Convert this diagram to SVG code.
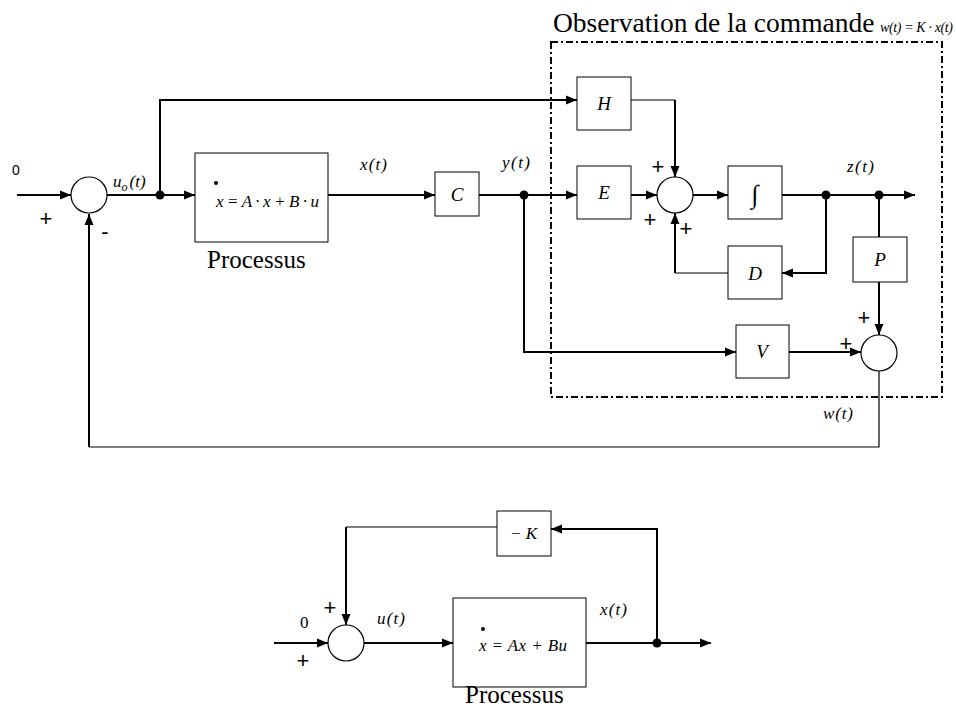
<svg xmlns="http://www.w3.org/2000/svg" width="956" height="709" viewBox="0 0 956 709">
<style>
.w{fill:none;stroke:#000;stroke-width:2}
.t{fill:none;stroke:#000;stroke-width:1.2}
.b{fill:#fff;stroke:#000;stroke-width:1}
.c{fill:#fff;stroke:#000;stroke-width:1.2}
.m{font-family:"Liberation Serif","Times New Roman",serif;font-style:italic;font-size:17px;fill:#000}
.r{font-family:"Liberation Serif","Times New Roman",serif;font-size:25px;fill:#000}
.s{font-family:"Liberation Sans",sans-serif;font-size:22px;fill:#000}
.l{font-family:"Liberation Serif","Times New Roman",serif;font-style:italic;font-size:19px;fill:#000}
</style>
<defs>
<marker id="a" markerUnits="userSpaceOnUse" markerWidth="12" markerHeight="10" refX="11" refY="5" orient="auto">
<path d="M0,0.5 L11,5 L0,9.5 z" fill="#000"/>
</marker>
</defs>
<g id="connectors">
<path class="w" d="M17,195 H71" marker-end="url(#a)"/>
<path class="w" d="M107,195 H195" marker-end="url(#a)"/>
<path class="w" d="M160,195 V100 H577" marker-end="url(#a)"/>
<path class="w" d="M328,195 H435" marker-end="url(#a)"/>
<path class="w" d="M479,195 H577" marker-end="url(#a)"/>
<path class="w" d="M524,195 V352 H736" marker-end="url(#a)"/>
<path class="t" d="M631,100 H675"/>
<path class="w" d="M675,100 V177" marker-end="url(#a)"/>
<path class="w" d="M631,195 H657" marker-end="url(#a)"/>
<path class="w" d="M693,195 H728" marker-end="url(#a)"/>
<path class="w" d="M782,195 H915" marker-end="url(#a)"/>
<path class="w" d="M826,195 V273 H782" marker-end="url(#a)"/>
<path class="t" d="M728,273 H675"/>
<path class="w" d="M675,273 V213" marker-end="url(#a)"/>
<path class="w" d="M879,195 V237"/>
<path class="w" d="M879,282 V335" marker-end="url(#a)"/>
<path class="w" d="M789,352 H861" marker-end="url(#a)"/>
<path class="t" d="M879,371 V447 H89"/>
<path class="w" d="M89,447 V214" marker-end="url(#a)"/>
<circle cx="160" cy="195" r="4.5"/>
<circle cx="524" cy="195" r="4.5"/>
<circle cx="826" cy="195" r="4.5"/>
<circle cx="879" cy="195" r="4.5"/>
<path class="w" d="M274,643 H328" marker-end="url(#a)"/>
<path class="w" d="M364,643 H453" marker-end="url(#a)"/>
<path class="w" d="M586,643 H711" marker-end="url(#a)"/>
<path class="w" d="M657,643 V529 H551" marker-end="url(#a)"/>
<path class="t" d="M497,527 H346"/>
<path class="w" d="M346,527 V625" marker-end="url(#a)"/>
<circle cx="657" cy="643" r="4.5"/>
</g>
<g id="observer-frame">
<rect x="551" y="42" width="391" height="355" fill="none" stroke="#000" stroke-width="2" stroke-dasharray="7,3,2,3"/>
<text class="r" x="553" y="32" style="font-size:27.5px">Observation de la commande</text>
<text class="m" x="880" y="32" style="font-size:14px" textLength="73">w(t) = K · x(t)</text>
</g>
<g id="sum1">
<circle class="c" cx="89" cy="195" r="18"/>
<text x="12" y="175" font-family="Liberation Sans,sans-serif" font-size="14">0</text>
<text class="s" x="46" y="226" text-anchor="middle">+</text>
<text class="s" x="105" y="239" text-anchor="middle">-</text>
<text class="m" x="113" y="187">u<tspan style="font-size:12px" dy="4">o</tspan><tspan dy="-4" dx="2">(t)</tspan></text>
</g>
<g id="process1">
<rect class="b" x="195" y="153" width="133" height="89"/>
<circle cx="216" cy="183" r="2"/>
<text class="m" x="216" y="207" textLength="103">x = A · x + B · u</text>
<text class="r" x="207" y="268">Processus</text>
<text class="m" x="360" y="170" textLength="27">x(t)</text>
</g>
<g id="C">
<rect class="b" x="435" y="172" width="44" height="44"/>
<text class="l" x="457" y="201" text-anchor="middle">C</text>
<text class="m" x="502" y="168" textLength="28">y(t)</text>
</g>
<g id="H">
<rect class="b" x="577" y="77" width="54" height="53"/>
<text class="l" x="604" y="110" text-anchor="middle">H</text>
</g>
<g id="E">
<rect class="b" x="577" y="166" width="54" height="53"/>
<text class="l" x="604" y="199" text-anchor="middle">E</text>
</g>
<g id="sum2">
<circle class="c" cx="675" cy="195" r="18"/>
<text class="s" x="658" y="174" text-anchor="middle">+</text>
<text class="s" x="650" y="227" text-anchor="middle">+</text>
<text class="s" x="686" y="236" text-anchor="middle">+</text>
</g>
<g id="integrator">
<rect class="b" x="728" y="166" width="54" height="53"/>
<text class="l" x="755" y="203" text-anchor="middle" style="font-size:26px">∫</text>
<text class="m" x="847" y="172" textLength="27">z(t)</text>
</g>
<g id="D">
<rect class="b" x="728" y="246" width="54" height="53"/>
<text class="l" x="755" y="280" text-anchor="middle">D</text>
</g>
<g id="P">
<rect class="b" x="853" y="237" width="54" height="45"/>
<text class="l" x="880" y="266" text-anchor="middle">P</text>
</g>
<g id="V">
<rect class="b" x="736" y="325" width="53" height="53"/>
<text class="l" x="762" y="358" text-anchor="middle">V</text>
</g>
<g id="sum3">
<circle class="c" cx="879" cy="353" r="18"/>
<text class="s" x="864" y="325" text-anchor="middle">+</text>
<text class="s" x="846" y="351" text-anchor="middle">+</text>
<text class="m" x="823" y="419" textLength="30">w(t)</text>
</g>
<g id="sum4">
<circle class="c" cx="346" cy="643" r="18"/>
<text x="300" y="628" font-family="Liberation Serif,serif" font-size="17">0</text>
<text class="s" x="303" y="668" text-anchor="middle">+</text>
<text class="s" x="330" y="615" text-anchor="middle">+</text>
<text class="m" x="377" y="624" textLength="28">u(t)</text>
</g>
<g id="process2">
<rect class="b" x="453" y="598" width="133" height="89"/>
<circle cx="483" cy="629" r="2"/>
<text class="m" x="479" y="651" textLength="88">x = Ax + Bu</text>
<text class="r" x="465" y="703">Processus</text>
<text class="m" x="600" y="615" textLength="27">x(t)</text>
</g>
<g id="K">
<rect class="b" x="497" y="511" width="54" height="45"/>
<text class="m" x="510" y="539" textLength="27">− K</text>
</g>
</svg>
